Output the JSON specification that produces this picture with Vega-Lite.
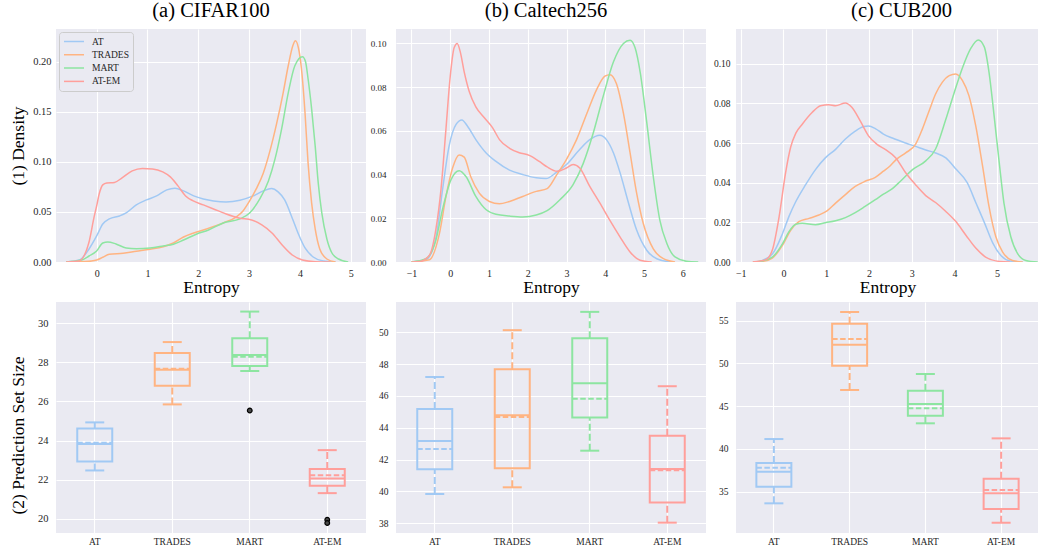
{
  "$schema": "https://vega.github.io/schema/vega-lite/v6.json",
  "background": "white",
  "padding": {"left": 9, "top": 0, "right": 0, "bottom": 0},
  "config": {
    "view": {"fill": "#EAEAF2", "stroke": null},
    "axis": {"domain": false, "ticks": false, "grid": true, "gridColor": "#ffffff", "gridWidth": 1.1, "labelOverlap": false, "tickCount": 12, "labelFont": "Liberation Serif", "labelColor": "#262626", "titleFont": "Liberation Serif", "titleFontWeight": "normal", "titleColor": "#000000", "titleFontSize": 17.5, "labelFontSize": 10},
    "title": {"font": "Liberation Serif", "fontSize": 20.5, "fontWeight": "normal", "color": "#000000", "offset": 8, "baseline": "alphabetic"}
  },
  "datasets": {
    "kde_a": [
      {"m":"AT","x":-0.6,"d":0},{"m":"AT","x":-0.34,"d":0.002},{"m":"AT","x":-0.15,"d":0.013},{"m":"AT","x":0,"d":0.026},{"m":"AT","x":0.12,"d":0.038},{"m":"AT","x":0.25,"d":0.043},{"m":"AT","x":0.45,"d":0.046},{"m":"AT","x":0.58,"d":0.049},{"m":"AT","x":0.78,"d":0.057},{"m":"AT","x":0.98,"d":0.062},{"m":"AT","x":1.18,"d":0.066},{"m":"AT","x":1.38,"d":0.072},{"m":"AT","x":1.54,"d":0.0737},{"m":"AT","x":1.71,"d":0.071},{"m":"AT","x":1.91,"d":0.066},{"m":"AT","x":2.1,"d":0.063},{"m":"AT","x":2.3,"d":0.061},{"m":"AT","x":2.55,"d":0.06},{"m":"AT","x":2.82,"d":0.0617},{"m":"AT","x":3.08,"d":0.066},{"m":"AT","x":3.28,"d":0.071},{"m":"AT","x":3.44,"d":0.0733},{"m":"AT","x":3.57,"d":0.07},{"m":"AT","x":3.7,"d":0.062},{"m":"AT","x":3.84,"d":0.045},{"m":"AT","x":3.97,"d":0.028},{"m":"AT","x":4.1,"d":0.014},{"m":"AT","x":4.26,"d":0.005},{"m":"AT","x":4.46,"d":0.001},{"m":"AT","x":4.7,"d":0},
      {"m":"TRADES","x":-0.6,"d":0},{"m":"TRADES","x":-0.28,"d":0.0005},{"m":"TRADES","x":-0.1,"d":0.001},{"m":"TRADES","x":0,"d":0.002},{"m":"TRADES","x":0.12,"d":0.0047},{"m":"TRADES","x":0.25,"d":0.0077},{"m":"TRADES","x":0.52,"d":0.0087},{"m":"TRADES","x":0.78,"d":0.0107},{"m":"TRADES","x":1.05,"d":0.0127},{"m":"TRADES","x":1.31,"d":0.0153},{"m":"TRADES","x":1.51,"d":0.019},{"m":"TRADES","x":1.71,"d":0.025},{"m":"TRADES","x":1.91,"d":0.029},{"m":"TRADES","x":2.16,"d":0.033},{"m":"TRADES","x":2.49,"d":0.039},{"m":"TRADES","x":2.75,"d":0.045},{"m":"TRADES","x":2.88,"d":0.051},{"m":"TRADES","x":3.01,"d":0.061},{"m":"TRADES","x":3.14,"d":0.073},{"m":"TRADES","x":3.28,"d":0.089},{"m":"TRADES","x":3.41,"d":0.111},{"m":"TRADES","x":3.54,"d":0.138},{"m":"TRADES","x":3.67,"d":0.169},{"m":"TRADES","x":3.77,"d":0.196},{"m":"TRADES","x":3.86,"d":0.216},{"m":"TRADES","x":3.91,"d":0.221},{"m":"TRADES","x":3.97,"d":0.214},{"m":"TRADES","x":4.03,"d":0.193},{"m":"TRADES","x":4.1,"d":0.149},{"m":"TRADES","x":4.16,"d":0.099},{"m":"TRADES","x":4.23,"d":0.059},{"m":"TRADES","x":4.3,"d":0.033},{"m":"TRADES","x":4.39,"d":0.013},{"m":"TRADES","x":4.53,"d":0.003},{"m":"TRADES","x":4.7,"d":0},
      {"m":"MART","x":-0.6,"d":0},{"m":"MART","x":-0.3,"d":0.002},{"m":"MART","x":-0.15,"d":0.006},{"m":"MART","x":0,"d":0.011},{"m":"MART","x":0.12,"d":0.019},{"m":"MART","x":0.22,"d":0.02},{"m":"MART","x":0.38,"d":0.018},{"m":"MART","x":0.58,"d":0.014},{"m":"MART","x":0.78,"d":0.0133},{"m":"MART","x":1.05,"d":0.014},{"m":"MART","x":1.31,"d":0.016},{"m":"MART","x":1.51,"d":0.0177},{"m":"MART","x":1.71,"d":0.022},{"m":"MART","x":1.97,"d":0.028},{"m":"MART","x":2.2,"d":0.032},{"m":"MART","x":2.49,"d":0.039},{"m":"MART","x":2.82,"d":0.043},{"m":"MART","x":3.01,"d":0.049},{"m":"MART","x":3.21,"d":0.063},{"m":"MART","x":3.38,"d":0.081},{"m":"MART","x":3.51,"d":0.103},{"m":"MART","x":3.64,"d":0.133},{"m":"MART","x":3.77,"d":0.169},{"m":"MART","x":3.9,"d":0.196},{"m":"MART","x":4.05,"d":0.205},{"m":"MART","x":4.11,"d":0.2},{"m":"MART","x":4.16,"d":0.183},{"m":"MART","x":4.23,"d":0.153},{"m":"MART","x":4.3,"d":0.116},{"m":"MART","x":4.36,"d":0.079},{"m":"MART","x":4.43,"d":0.049},{"m":"MART","x":4.53,"d":0.023},{"m":"MART","x":4.63,"d":0.009},{"m":"MART","x":4.76,"d":0.003},{"m":"MART","x":4.95,"d":0},
      {"m":"AT-EM","x":-0.6,"d":0},{"m":"AT-EM","x":-0.35,"d":0.001},{"m":"AT-EM","x":-0.25,"d":0.006},{"m":"AT-EM","x":-0.15,"d":0.02},{"m":"AT-EM","x":-0.05,"d":0.045},{"m":"AT-EM","x":0,"d":0.056},{"m":"AT-EM","x":0.05,"d":0.068},{"m":"AT-EM","x":0.12,"d":0.077},{"m":"AT-EM","x":0.2,"d":0.079},{"m":"AT-EM","x":0.35,"d":0.0795},{"m":"AT-EM","x":0.5,"d":0.084},{"m":"AT-EM","x":0.7,"d":0.091},{"m":"AT-EM","x":0.9,"d":0.0935},{"m":"AT-EM","x":1.1,"d":0.093},{"m":"AT-EM","x":1.3,"d":0.09},{"m":"AT-EM","x":1.45,"d":0.085},{"m":"AT-EM","x":1.6,"d":0.076},{"m":"AT-EM","x":1.75,"d":0.066},{"m":"AT-EM","x":1.9,"d":0.061},{"m":"AT-EM","x":2.1,"d":0.057},{"m":"AT-EM","x":2.3,"d":0.053},{"m":"AT-EM","x":2.55,"d":0.048},{"m":"AT-EM","x":2.8,"d":0.044},{"m":"AT-EM","x":3.05,"d":0.042},{"m":"AT-EM","x":3.25,"d":0.037},{"m":"AT-EM","x":3.45,"d":0.029},{"m":"AT-EM","x":3.65,"d":0.017},{"m":"AT-EM","x":3.85,"d":0.007},{"m":"AT-EM","x":4.05,"d":0.002},{"m":"AT-EM","x":4.3,"d":0.0003},{"m":"AT-EM","x":4.6,"d":0}
    ],
    "kde_b": [
      {"m":"AT","x":-1.0,"d":0},{"m":"AT","x":-0.63,"d":0.001},{"m":"AT","x":-0.37,"d":0.011},{"m":"AT","x":-0.2,"d":0.033},{"m":"AT","x":-0.03,"d":0.053},{"m":"AT","x":0.15,"d":0.063},{"m":"AT","x":0.3,"d":0.065},{"m":"AT","x":0.45,"d":0.062},{"m":"AT","x":0.66,"d":0.056},{"m":"AT","x":0.92,"d":0.05},{"m":"AT","x":1.18,"d":0.046},{"m":"AT","x":1.53,"d":0.042},{"m":"AT","x":1.87,"d":0.04},{"m":"AT","x":2.22,"d":0.0385},{"m":"AT","x":2.47,"d":0.0382},{"m":"AT","x":2.74,"d":0.041},{"m":"AT","x":3.0,"d":0.0446},{"m":"AT","x":3.34,"d":0.0515},{"m":"AT","x":3.6,"d":0.056},{"m":"AT","x":3.86,"d":0.058},{"m":"AT","x":4.03,"d":0.056},{"m":"AT","x":4.21,"d":0.05},{"m":"AT","x":4.38,"d":0.041},{"m":"AT","x":4.6,"d":0.027},{"m":"AT","x":4.81,"d":0.0146},{"m":"AT","x":5.07,"d":0.0054},{"m":"AT","x":5.33,"d":0.0015},{"m":"AT","x":5.7,"d":0},
      {"m":"TRADES","x":-1.0,"d":0},{"m":"TRADES","x":-0.54,"d":0.001},{"m":"TRADES","x":-0.28,"d":0.013},{"m":"TRADES","x":-0.11,"d":0.03},{"m":"TRADES","x":0.06,"d":0.043},{"m":"TRADES","x":0.23,"d":0.049},{"m":"TRADES","x":0.36,"d":0.048},{"m":"TRADES","x":0.53,"d":0.039},{"m":"TRADES","x":0.75,"d":0.0315},{"m":"TRADES","x":1.01,"d":0.0277},{"m":"TRADES","x":1.27,"d":0.0266},{"m":"TRADES","x":1.53,"d":0.0277},{"m":"TRADES","x":1.87,"d":0.03},{"m":"TRADES","x":2.22,"d":0.0323},{"m":"TRADES","x":2.5,"d":0.0336},{"m":"TRADES","x":2.75,"d":0.04},{"m":"TRADES","x":3.0,"d":0.047},{"m":"TRADES","x":3.26,"d":0.056},{"m":"TRADES","x":3.52,"d":0.0677},{"m":"TRADES","x":3.78,"d":0.079},{"m":"TRADES","x":3.99,"d":0.085},{"m":"TRADES","x":4.12,"d":0.0857},{"m":"TRADES","x":4.29,"d":0.0815},{"m":"TRADES","x":4.47,"d":0.068},{"m":"TRADES","x":4.64,"d":0.05},{"m":"TRADES","x":4.81,"d":0.0315},{"m":"TRADES","x":4.98,"d":0.0177},{"m":"TRADES","x":5.24,"d":0.006},{"m":"TRADES","x":5.5,"d":0.0015},{"m":"TRADES","x":5.8,"d":0},
      {"m":"MART","x":-1.0,"d":0},{"m":"MART","x":-0.63,"d":0.0015},{"m":"MART","x":-0.37,"d":0.01},{"m":"MART","x":-0.2,"d":0.024},{"m":"MART","x":0.02,"d":0.0377},{"m":"MART","x":0.23,"d":0.0418},{"m":"MART","x":0.41,"d":0.039},{"m":"MART","x":0.66,"d":0.03},{"m":"MART","x":0.92,"d":0.024},{"m":"MART","x":1.18,"d":0.0218},{"m":"MART","x":1.53,"d":0.021},{"m":"MART","x":1.87,"d":0.0206},{"m":"MART","x":2.22,"d":0.0215},{"m":"MART","x":2.5,"d":0.0235},{"m":"MART","x":2.83,"d":0.0285},{"m":"MART","x":3.17,"d":0.0354},{"m":"MART","x":3.43,"d":0.045},{"m":"MART","x":3.69,"d":0.059},{"m":"MART","x":3.95,"d":0.076},{"m":"MART","x":4.21,"d":0.0915},{"m":"MART","x":4.47,"d":0.1},{"m":"MART","x":4.64,"d":0.1015},{"m":"MART","x":4.77,"d":0.098},{"m":"MART","x":4.9,"d":0.087},{"m":"MART","x":5.07,"d":0.064},{"m":"MART","x":5.24,"d":0.039},{"m":"MART","x":5.41,"d":0.019},{"m":"MART","x":5.59,"d":0.0085},{"m":"MART","x":5.8,"d":0.0023},{"m":"MART","x":6.1,"d":0.0003},{"m":"MART","x":6.4,"d":0},
      {"m":"AT-EM","x":-1.0,"d":0},{"m":"AT-EM","x":-0.8,"d":0.0002},{"m":"AT-EM","x":-0.54,"d":0.003},{"m":"AT-EM","x":-0.37,"d":0.015},{"m":"AT-EM","x":-0.24,"d":0.033},{"m":"AT-EM","x":-0.11,"d":0.061},{"m":"AT-EM","x":0,"d":0.085},{"m":"AT-EM","x":0.1,"d":0.098},{"m":"AT-EM","x":0.18,"d":0.1},{"m":"AT-EM","x":0.26,"d":0.096},{"m":"AT-EM","x":0.36,"d":0.087},{"m":"AT-EM","x":0.49,"d":0.078},{"m":"AT-EM","x":0.66,"d":0.071},{"m":"AT-EM","x":0.88,"d":0.066},{"m":"AT-EM","x":1.09,"d":0.0615},{"m":"AT-EM","x":1.27,"d":0.056},{"m":"AT-EM","x":1.53,"d":0.052},{"m":"AT-EM","x":1.78,"d":0.05},{"m":"AT-EM","x":2.04,"d":0.0488},{"m":"AT-EM","x":2.3,"d":0.046},{"m":"AT-EM","x":2.5,"d":0.0435},{"m":"AT-EM","x":2.76,"d":0.0415},{"m":"AT-EM","x":3.0,"d":0.043},{"m":"AT-EM","x":3.17,"d":0.0446},{"m":"AT-EM","x":3.34,"d":0.043},{"m":"AT-EM","x":3.6,"d":0.0346},{"m":"AT-EM","x":3.86,"d":0.027},{"m":"AT-EM","x":4.12,"d":0.019},{"m":"AT-EM","x":4.38,"d":0.0115},{"m":"AT-EM","x":4.64,"d":0.0046},{"m":"AT-EM","x":4.9,"d":0.0008},{"m":"AT-EM","x":5.2,"d":0}
    ],
    "kde_c": [
      {"m":"AT","x":-0.7,"d":0},{"m":"AT","x":-0.57,"d":0.0003},{"m":"AT","x":-0.26,"d":0.004},{"m":"AT","x":-0.02,"d":0.0144},{"m":"AT","x":0.13,"d":0.023},{"m":"AT","x":0.29,"d":0.0305},{"m":"AT","x":0.52,"d":0.039},{"m":"AT","x":0.75,"d":0.0466},{"m":"AT","x":0.98,"d":0.0525},{"m":"AT","x":1.22,"d":0.0568},{"m":"AT","x":1.45,"d":0.062},{"m":"AT","x":1.68,"d":0.066},{"m":"AT","x":1.88,"d":0.0683},{"m":"AT","x":1.99,"d":0.0686},{"m":"AT","x":2.15,"d":0.0673},{"m":"AT","x":2.34,"d":0.0645},{"m":"AT","x":2.55,"d":0.0625},{"m":"AT","x":2.86,"d":0.06},{"m":"AT","x":3.09,"d":0.0583},{"m":"AT","x":3.33,"d":0.0565},{"m":"AT","x":3.56,"d":0.055},{"m":"AT","x":3.8,"d":0.0525},{"m":"AT","x":4.03,"d":0.047},{"m":"AT","x":4.3,"d":0.04},{"m":"AT","x":4.5,"d":0.03},{"m":"AT","x":4.7,"d":0.02},{"m":"AT","x":4.9,"d":0.0095},{"m":"AT","x":5.1,"d":0.003},{"m":"AT","x":5.3,"d":0.0005},{"m":"AT","x":5.6,"d":0},
      {"m":"TRADES","x":-0.7,"d":0},{"m":"TRADES","x":-0.49,"d":0.0003},{"m":"TRADES","x":-0.26,"d":0.002},{"m":"TRADES","x":-0.02,"d":0.0085},{"m":"TRADES","x":0.17,"d":0.016},{"m":"TRADES","x":0.36,"d":0.0203},{"m":"TRADES","x":0.6,"d":0.022},{"m":"TRADES","x":0.83,"d":0.0237},{"m":"TRADES","x":1.02,"d":0.0258},{"m":"TRADES","x":1.22,"d":0.0297},{"m":"TRADES","x":1.45,"d":0.034},{"m":"TRADES","x":1.68,"d":0.0381},{"m":"TRADES","x":1.91,"d":0.0407},{"m":"TRADES","x":2.15,"d":0.0427},{"m":"TRADES","x":2.34,"d":0.0458},{"m":"TRADES","x":2.5,"d":0.0485},{"m":"TRADES","x":2.63,"d":0.0515},{"m":"TRADES","x":2.86,"d":0.055},{"m":"TRADES","x":3.09,"d":0.0593},{"m":"TRADES","x":3.25,"d":0.067},{"m":"TRADES","x":3.41,"d":0.0763},{"m":"TRADES","x":3.56,"d":0.0847},{"m":"TRADES","x":3.72,"d":0.0907},{"m":"TRADES","x":3.88,"d":0.094},{"m":"TRADES","x":4.03,"d":0.0948},{"m":"TRADES","x":4.19,"d":0.0915},{"m":"TRADES","x":4.34,"d":0.0839},{"m":"TRADES","x":4.5,"d":0.0686},{"m":"TRADES","x":4.66,"d":0.0483},{"m":"TRADES","x":4.81,"d":0.028},{"m":"TRADES","x":4.97,"d":0.0127},{"m":"TRADES","x":5.13,"d":0.005},{"m":"TRADES","x":5.36,"d":0.0008},{"m":"TRADES","x":5.6,"d":0},
      {"m":"MART","x":-0.7,"d":0},{"m":"MART","x":-0.57,"d":0.0002},{"m":"MART","x":-0.26,"d":0.0025},{"m":"MART","x":-0.02,"d":0.0093},{"m":"MART","x":0.13,"d":0.0153},{"m":"MART","x":0.29,"d":0.019},{"m":"MART","x":0.44,"d":0.0195},{"m":"MART","x":0.75,"d":0.0188},{"m":"MART","x":0.98,"d":0.0198},{"m":"MART","x":1.22,"d":0.0208},{"m":"MART","x":1.45,"d":0.0224},{"m":"MART","x":1.68,"d":0.0249},{"m":"MART","x":1.91,"d":0.028},{"m":"MART","x":2.15,"d":0.0314},{"m":"MART","x":2.34,"d":0.0342},{"m":"MART","x":2.55,"d":0.037},{"m":"MART","x":2.75,"d":0.041},{"m":"MART","x":3.02,"d":0.0466},{"m":"MART","x":3.33,"d":0.051},{"m":"MART","x":3.56,"d":0.057},{"m":"MART","x":3.8,"d":0.072},{"m":"MART","x":3.99,"d":0.085},{"m":"MART","x":4.19,"d":0.098},{"m":"MART","x":4.38,"d":0.1076},{"m":"MART","x":4.56,"d":0.112},{"m":"MART","x":4.7,"d":0.1085},{"m":"MART","x":4.81,"d":0.0958},{"m":"MART","x":4.93,"d":0.0737},{"m":"MART","x":5.05,"d":0.05},{"m":"MART","x":5.16,"d":0.0297},{"m":"MART","x":5.32,"d":0.0127},{"m":"MART","x":5.48,"d":0.0042},{"m":"MART","x":5.67,"d":0.0008},{"m":"MART","x":5.95,"d":0},
      {"m":"AT-EM","x":-0.72,"d":0},{"m":"AT-EM","x":-0.41,"d":0.0012},{"m":"AT-EM","x":-0.26,"d":0.006},{"m":"AT-EM","x":-0.1,"d":0.023},{"m":"AT-EM","x":0.05,"d":0.045},{"m":"AT-EM","x":0.17,"d":0.058},{"m":"AT-EM","x":0.29,"d":0.065},{"m":"AT-EM","x":0.44,"d":0.0695},{"m":"AT-EM","x":0.67,"d":0.0754},{"m":"AT-EM","x":0.87,"d":0.0788},{"m":"AT-EM","x":1.06,"d":0.0793},{"m":"AT-EM","x":1.22,"d":0.0788},{"m":"AT-EM","x":1.45,"d":0.0802},{"m":"AT-EM","x":1.6,"d":0.078},{"m":"AT-EM","x":1.8,"d":0.071},{"m":"AT-EM","x":1.99,"d":0.0636},{"m":"AT-EM","x":2.19,"d":0.0593},{"m":"AT-EM","x":2.39,"d":0.0567},{"m":"AT-EM","x":2.63,"d":0.0525},{"m":"AT-EM","x":2.86,"d":0.045},{"m":"AT-EM","x":3.09,"d":0.039},{"m":"AT-EM","x":3.33,"d":0.0335},{"m":"AT-EM","x":3.56,"d":0.03},{"m":"AT-EM","x":3.8,"d":0.0255},{"m":"AT-EM","x":4.03,"d":0.0205},{"m":"AT-EM","x":4.27,"d":0.0135},{"m":"AT-EM","x":4.5,"d":0.007},{"m":"AT-EM","x":4.73,"d":0.0025},{"m":"AT-EM","x":5.05,"d":0.0003},{"m":"AT-EM","x":5.3,"d":0}
    ],
    "box_a": [
      {"m":"AT","wlo":22.47,"q1":22.93,"med":23.82,"mean":23.89,"q3":24.62,"whi":24.93},
      {"m":"TRADES","wlo":25.85,"q1":26.8,"med":27.62,"mean":27.68,"q3":28.48,"whi":29.04},
      {"m":"MART","wlo":27.56,"q1":27.81,"med":28.38,"mean":28.29,"q3":29.23,"whi":30.6},
      {"m":"AT-EM","wlo":21.31,"q1":21.69,"med":22.06,"mean":22.22,"q3":22.54,"whi":23.51}
    ],
    "out_a": [
      {"m":"MART","v":25.54},{"m":"AT-EM","v":19.95},{"m":"AT-EM","v":19.78}
    ],
    "box_b": [
      {"m":"AT","wlo":39.84,"q1":41.39,"med":43.17,"mean":42.67,"q3":45.18,"whi":47.19},
      {"m":"TRADES","wlo":40.26,"q1":41.46,"med":44.79,"mean":44.68,"q3":47.68,"whi":50.13},
      {"m":"MART","wlo":42.56,"q1":44.64,"med":46.8,"mean":45.83,"q3":49.62,"whi":51.28},
      {"m":"AT-EM","wlo":38.04,"q1":39.3,"med":41.41,"mean":41.33,"q3":43.5,"whi":46.61}
    ],
    "box_c": [
      {"m":"AT","wlo":33.64,"q1":35.58,"med":37.34,"mean":37.81,"q3":38.36,"whi":41.16},
      {"m":"TRADES","wlo":46.9,"q1":49.74,"med":52.19,"mean":52.86,"q3":54.65,"whi":56.02},
      {"m":"MART","wlo":43.0,"q1":43.89,"med":45.26,"mean":44.75,"q3":46.81,"whi":48.77},
      {"m":"AT-EM","wlo":31.37,"q1":32.98,"med":34.81,"mean":35.2,"q3":36.52,"whi":41.24}
    ]
  },
  "columns": 3,
  "spacing": {"row": 40, "column": 30},
  "bounds": "flush",
  "resolve": {"scale": {"x": "independent", "y": "independent", "stroke": "independent"}, "legend": {"stroke": "independent"}},
  "concat": [
    {
      "width": 310, "height": 233,
      "title": {"text": "(a) CIFAR100"},
      "data": {"name": "kde_a"},
      "mark": {"type": "line", "interpolate": "monotone", "strokeWidth": 1.5, "clip": true},
      "encoding": {
        "x": {"field": "x", "type": "quantitative", "scale": {"domain": [-0.8, 5.3], "nice": false, "zero": false}, "axis": {"values": [0,1,2,3,4,5], "format": "d", "title": "Entropy", "labelPadding": 6, "titleY": 30, "titleBaseline": "alphabetic"}},
        "y": {"field": "d", "type": "quantitative", "scale": {"domain": [0, 0.2327], "nice": false}, "axis": {"values": [0,0.05,0.1,0.15,0.2], "format": ".2f", "title": "(1) Density", "labelFontSize": 10.5, "labelPadding": 5, "titleX": -32.3, "titleBaseline": "alphabetic"}},
        "stroke": {"field": "m", "type": "nominal", "scale": {"domain": ["AT","TRADES","MART","AT-EM"], "range": ["#a1c9f4","#ffb482","#8de5a1","#ff9f9b"]},
          "legend": {"orient": "top-left", "title": null, "symbolType": "stroke", "symbolStrokeWidth": 1.5, "symbolSize": 400, "clipHeight": 11, "labelFont": "Liberation Serif", "labelFontSize": 9.5, "labelColor": "#262626", "fillColor": "#EAEAF2", "strokeColor": "#cccccc", "cornerRadius": 3, "padding": 4, "offset": 3, "rowPadding": 2.3, "labelOffset": 7}}
      }
    },
    {
      "width": 310, "height": 233,
      "title": {"text": "(b) Caltech256", "dx": -5},
      "data": {"name": "kde_b"},
      "mark": {"type": "line", "interpolate": "monotone", "strokeWidth": 1.5, "clip": true},
      "encoding": {
        "x": {"field": "x", "type": "quantitative", "scale": {"domain": [-1.4, 6.6], "nice": false, "zero": false}, "axis": {"values": [-1,0,1,2,3,4,5,6], "format": "d", "title": "Entropy", "labelPadding": 6, "titleY": 30, "titleBaseline": "alphabetic"}},
        "y": {"field": "d", "type": "quantitative", "scale": {"domain": [0, 0.1066], "nice": false}, "axis": {"values": [0,0.02,0.04,0.06,0.08,0.1], "format": ".2f", "title": null, "labelFontSize": 9, "labelPadding": 10}},
        "stroke": {"field": "m", "type": "nominal", "scale": {"domain": ["AT","TRADES","MART","AT-EM"], "range": ["#a1c9f4","#ffb482","#8de5a1","#ff9f9b"]}, "legend": null}
      }
    },
    {
      "width": 303, "height": 233,
      "title": {"text": "(c) CUB200", "dx": 14},
      "data": {"name": "kde_c"},
      "mark": {"type": "line", "interpolate": "monotone", "strokeWidth": 1.5, "clip": true},
      "encoding": {
        "x": {"field": "x", "type": "quantitative", "scale": {"domain": [-1.11, 5.98], "nice": false, "zero": false}, "axis": {"values": [-1,0,1,2,3,4,5], "format": "d", "title": "Entropy", "labelPadding": 6, "titleY": 30, "titleBaseline": "alphabetic"}},
        "y": {"field": "d", "type": "quantitative", "scale": {"domain": [0, 0.1175], "nice": false}, "axis": {"values": [0,0.02,0.04,0.06,0.08,0.1], "format": ".2f", "title": null, "labelFontSize": 9.5, "labelPadding": 6}},
        "stroke": {"field": "m", "type": "nominal", "scale": {"domain": ["AT","TRADES","MART","AT-EM"], "range": ["#a1c9f4","#ffb482","#8de5a1","#ff9f9b"]}, "legend": null}
      }
    },
    {
      "width": 310, "height": 231,
      "data": {"name": "box_a"},
      "encoding": {
        "x": {"field": "m", "type": "nominal", "sort": null, "scale": {"domain": ["AT","TRADES","MART","AT-EM"], "paddingInner": 0, "paddingOuter": 0}, "axis": {"title": null, "labelAngle": 0, "grid": true, "bandPosition": 0.5, "labelFontSize": 9.5, "labelPadding": 3}},
        "stroke": {"field": "m", "type": "nominal", "scale": {"domain": ["AT","TRADES","MART","AT-EM"], "range": ["#a1c9f4","#ffb482","#8de5a1","#ff9f9b"]}, "legend": null}
      },
      "layer": [
        {"mark": {"type": "rule", "strokeWidth": 2, "strokeDash": [7, 3]}, "encoding": {"y": {"field": "q3", "type": "quantitative", "scale": {"domain": [19.27, 31.09], "nice": false, "zero": false}, "axis": {"values": [20,22,24,26,28,30], "format": "d", "title": "(2) Prediction Set Size", "labelFontSize": 10.5, "labelPadding": 8, "titleX": -32.3, "titleY": 133, "titleBaseline": "alphabetic"}}, "y2": {"field": "whi"}}},
        {"mark": {"type": "rule", "strokeWidth": 2, "strokeDash": [7, 3]}, "encoding": {"y": {"field": "wlo", "type": "quantitative"}, "y2": {"field": "q1"}}},
        {"mark": {"type": "bar", "size": 35, "fill": "transparent", "strokeWidth": 2}, "encoding": {"y": {"field": "q1", "type": "quantitative"}, "y2": {"field": "q3"}}},
        {"mark": {"type": "rule", "strokeWidth": 2, "xOffset": -9.5, "x2Offset": 9.5}, "encoding": {"y": {"field": "whi", "type": "quantitative"}, "x2": {"field": "m"}}},
        {"mark": {"type": "rule", "strokeWidth": 2, "xOffset": -9.5, "x2Offset": 9.5}, "encoding": {"y": {"field": "wlo", "type": "quantitative"}, "x2": {"field": "m"}}},
        {"mark": {"type": "rule", "strokeWidth": 2, "xOffset": -17.5, "x2Offset": 17.5}, "encoding": {"y": {"field": "med", "type": "quantitative"}, "x2": {"field": "m"}}},
        {"mark": {"type": "rule", "strokeWidth": 2, "strokeDash": [5.5, 2.5], "xOffset": -17.5, "x2Offset": 17.5}, "encoding": {"y": {"field": "mean", "type": "quantitative"}, "x2": {"field": "m"}}},
        {"data": {"name": "out_a"}, "mark": {"type": "point", "filled": true, "fill": "#4a4a4a", "strokeWidth": 1.2, "size": 22, "opacity": 1}, "encoding": {"y": {"field": "v", "type": "quantitative"}, "stroke": {"value": "#000000"}}}
      ]
    },
    {
      "width": 310, "height": 231,
      "data": {"name": "box_b"},
      "encoding": {
        "x": {"field": "m", "type": "nominal", "sort": null, "scale": {"domain": ["AT","TRADES","MART","AT-EM"], "paddingInner": 0, "paddingOuter": 0}, "axis": {"title": null, "labelAngle": 0, "grid": true, "bandPosition": 0.5, "labelFontSize": 9.5, "labelPadding": 3}},
        "stroke": {"field": "m", "type": "nominal", "scale": {"domain": ["AT","TRADES","MART","AT-EM"], "range": ["#a1c9f4","#ffb482","#8de5a1","#ff9f9b"]}, "legend": null}
      },
      "layer": [
        {"mark": {"type": "rule", "strokeWidth": 2, "strokeDash": [7, 3]}, "encoding": {"y": {"field": "q3", "type": "quantitative", "scale": {"domain": [37.39, 51.9], "nice": false, "zero": false}, "axis": {"values": [38,40,42,44,46,48,50], "tickCount": 12, "format": "d", "title": null, "labelFontSize": 9.5, "labelPadding": 8, "labelOverlap": false}}, "y2": {"field": "whi"}}},
        {"mark": {"type": "rule", "strokeWidth": 2, "strokeDash": [7, 3]}, "encoding": {"y": {"field": "wlo", "type": "quantitative"}, "y2": {"field": "q1"}}},
        {"mark": {"type": "bar", "size": 35, "fill": "transparent", "strokeWidth": 2}, "encoding": {"y": {"field": "q1", "type": "quantitative"}, "y2": {"field": "q3"}}},
        {"mark": {"type": "rule", "strokeWidth": 2, "xOffset": -9.5, "x2Offset": 9.5}, "encoding": {"y": {"field": "whi", "type": "quantitative"}, "x2": {"field": "m"}}},
        {"mark": {"type": "rule", "strokeWidth": 2, "xOffset": -9.5, "x2Offset": 9.5}, "encoding": {"y": {"field": "wlo", "type": "quantitative"}, "x2": {"field": "m"}}},
        {"mark": {"type": "rule", "strokeWidth": 2, "xOffset": -17.5, "x2Offset": 17.5}, "encoding": {"y": {"field": "med", "type": "quantitative"}, "x2": {"field": "m"}}},
        {"mark": {"type": "rule", "strokeWidth": 2, "strokeDash": [5.5, 2.5], "xOffset": -17.5, "x2Offset": 17.5}, "encoding": {"y": {"field": "mean", "type": "quantitative"}, "x2": {"field": "m"}}}
      ]
    },
    {
      "width": 303, "height": 231,
      "data": {"name": "box_c"},
      "encoding": {
        "x": {"field": "m", "type": "nominal", "sort": null, "scale": {"domain": ["AT","TRADES","MART","AT-EM"], "paddingInner": 0, "paddingOuter": 0}, "axis": {"title": null, "labelAngle": 0, "grid": true, "bandPosition": 0.5, "labelFontSize": 9.5, "labelPadding": 3}},
        "stroke": {"field": "m", "type": "nominal", "scale": {"domain": ["AT","TRADES","MART","AT-EM"], "range": ["#a1c9f4","#ffb482","#8de5a1","#ff9f9b"]}, "legend": null}
      },
      "layer": [
        {"mark": {"type": "rule", "strokeWidth": 2, "strokeDash": [7, 3]}, "encoding": {"y": {"field": "q3", "type": "quantitative", "scale": {"domain": [30.17, 57.19], "nice": false, "zero": false}, "axis": {"values": [35,40,45,50,55], "format": "d", "title": null, "labelFontSize": 9.5, "labelPadding": 8}}, "y2": {"field": "whi"}}},
        {"mark": {"type": "rule", "strokeWidth": 2, "strokeDash": [7, 3]}, "encoding": {"y": {"field": "wlo", "type": "quantitative"}, "y2": {"field": "q1"}}},
        {"mark": {"type": "bar", "size": 35, "fill": "transparent", "strokeWidth": 2}, "encoding": {"y": {"field": "q1", "type": "quantitative"}, "y2": {"field": "q3"}}},
        {"mark": {"type": "rule", "strokeWidth": 2, "xOffset": -9.5, "x2Offset": 9.5}, "encoding": {"y": {"field": "whi", "type": "quantitative"}, "x2": {"field": "m"}}},
        {"mark": {"type": "rule", "strokeWidth": 2, "xOffset": -9.5, "x2Offset": 9.5}, "encoding": {"y": {"field": "wlo", "type": "quantitative"}, "x2": {"field": "m"}}},
        {"mark": {"type": "rule", "strokeWidth": 2, "xOffset": -17.5, "x2Offset": 17.5}, "encoding": {"y": {"field": "med", "type": "quantitative"}, "x2": {"field": "m"}}},
        {"mark": {"type": "rule", "strokeWidth": 2, "strokeDash": [5.5, 2.5], "xOffset": -17.5, "x2Offset": 17.5}, "encoding": {"y": {"field": "mean", "type": "quantitative"}, "x2": {"field": "m"}}}
      ]
    }
  ]
}
